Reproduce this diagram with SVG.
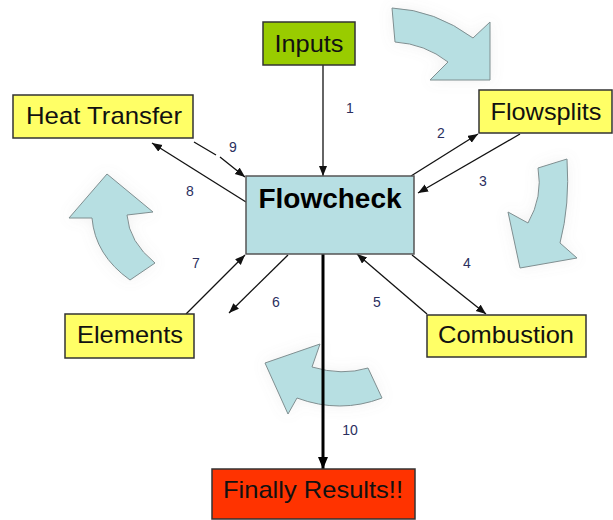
<svg xmlns="http://www.w3.org/2000/svg" width="613" height="520" viewBox="0 0 613 520">
  <style>
    .box { stroke: #333; stroke-width: 1.5; }
    .yellow { fill: #ffff66; }
    .label { font-family: "Liberation Sans", Arial, sans-serif; font-size: 24px; fill: #111; text-anchor: middle; }
    .num { font-family: "Liberation Sans", Arial, sans-serif; font-size: 14px; fill: #2b2f5e; text-anchor: middle; }
    .conn { fill: none; stroke: #111; stroke-width: 1.3; }
    .cycle { fill: #b7dfe2; stroke: #7f8e90; stroke-width: 1; filter: url(#haze); }
  </style>
  <defs>
    <marker id="tip" markerUnits="userSpaceOnUse" markerWidth="12" markerHeight="10" refX="10" refY="4" orient="auto">
      <path d="M0,0 L10,4 L0,8 Z" fill="#111"/>
    </marker>
    <marker id="tipBig" markerUnits="userSpaceOnUse" markerWidth="14" markerHeight="12" refX="12" refY="5" orient="auto">
      <path d="M0,0 L12,5 L0,10 Z" fill="#000"/>
    </marker>
    <filter id="haze" x="-30%" y="-30%" width="160%" height="160%">
      <feGaussianBlur in="SourceAlpha" stdDeviation="7" result="b"/>
      <feFlood flood-color="#8a8a8a" flood-opacity="0.12"/>
      <feComposite in2="b" operator="in" result="s"/>
      <feMerge><feMergeNode in="s"/><feMergeNode in="SourceGraphic"/></feMerge>
    </filter>
  </defs>

  <!-- cycle arrows around the central block -->
  <g id="cycle-arrows">
    <path class="cycle" d="M392,8 Q435,10 473,38 L490,22 L490,80 L430,80 L448,62 Q425,44 395,42 Z"/>
    <path class="cycle" d="M567,159 Q570,205 560,243 L577,258 L520,268 L508,212 L528,223 Q543,197 538,168 Z"/>
    <path class="cycle" d="M382,398 Q340,414 297,398 L288,414 L265,363 L320,344 L312,367 Q342,376 368,368 Z"/>
    <path class="cycle" d="M155,263 Q129,242 127,215 L153,212 L107,174 L69,218 L92,218 Q95,255 130,280 Z"/>
  </g>

  <!-- connectors -->
  <g id="connectors">
    <path class="conn" d="M323,65 L323,176" marker-end="url(#tip)"/>
    <path class="conn" d="M411,176 L478,134" marker-end="url(#tip)"/>
    <path class="conn" d="M520,134 L418,193" marker-end="url(#tip)"/>
    <path class="conn" d="M412,255 L486,314" marker-end="url(#tip)"/>
    <path class="conn" d="M427,314 L357,254" marker-end="url(#tip)"/>
    <path class="conn" d="M288,255 L229,313" marker-end="url(#tip)"/>
    <path class="conn" d="M186,314 L245,255" marker-end="url(#tip)"/>
    <path class="conn" d="M246,202 L152,143" marker-end="url(#tip)"/>
    <path class="conn" d="M194,142 L216,155 M220,157 L245,177" marker-end="url(#tip)"/>
    <path d="M323,254 L323,469" fill="none" stroke="#000" stroke-width="3" marker-end="url(#tipBig)"/>
  </g>

  <!-- connector numbers -->
  <g id="numbers">
    <text class="num" x="350" y="113">1</text>
    <text class="num" x="441" y="138">2</text>
    <text class="num" x="483" y="186">3</text>
    <text class="num" x="467" y="268">4</text>
    <text class="num" x="377" y="307">5</text>
    <text class="num" x="276" y="307">6</text>
    <text class="num" x="196" y="268">7</text>
    <text class="num" x="190" y="196">8</text>
    <text class="num" x="233" y="152">9</text>
    <text class="num" x="350" y="435" fill="#333">10</text>
  </g>

  <g id="inputs">
    <rect class="box" x="263" y="22" width="92" height="43" fill="#99cc00"/>
    <text class="label" x="309" y="52" textLength="69" lengthAdjust="spacingAndGlyphs">Inputs</text>
  </g>

  <g id="flowsplits">
    <rect class="box yellow" x="479" y="90" width="133" height="43"/>
    <text class="label" x="546" y="120" textLength="111" lengthAdjust="spacingAndGlyphs">Flowsplits</text>
  </g>

  <g id="heat-transfer">
    <rect class="box yellow" x="13" y="95" width="180" height="43"/>
    <text class="label" x="104" y="124" textLength="156" lengthAdjust="spacingAndGlyphs">Heat Transfer</text>
  </g>

  <g id="flowcheck">
    <rect x="246" y="176" width="168" height="78" fill="#b7dfe3" stroke="#555" stroke-width="1.5"/>
    <text x="330" y="208" font-family="'Liberation Sans', Arial, sans-serif" font-size="28" font-weight="bold" fill="#000" text-anchor="middle">Flowcheck</text>
  </g>

  <g id="elements">
    <rect class="box yellow" x="65" y="314" width="129" height="44"/>
    <text class="label" x="130" y="343" textLength="106" lengthAdjust="spacingAndGlyphs">Elements</text>
  </g>

  <g id="combustion">
    <rect class="box yellow" x="427" y="315" width="159" height="42"/>
    <text class="label" x="506" y="343" textLength="136" lengthAdjust="spacingAndGlyphs">Combustion</text>
  </g>

  <g id="finally-results">
    <rect class="box" x="212" y="469" width="203" height="50" fill="#ff3300"/>
    <text class="label" x="313" y="498" textLength="180" lengthAdjust="spacingAndGlyphs">Finally Results!!</text>
  </g>
</svg>
